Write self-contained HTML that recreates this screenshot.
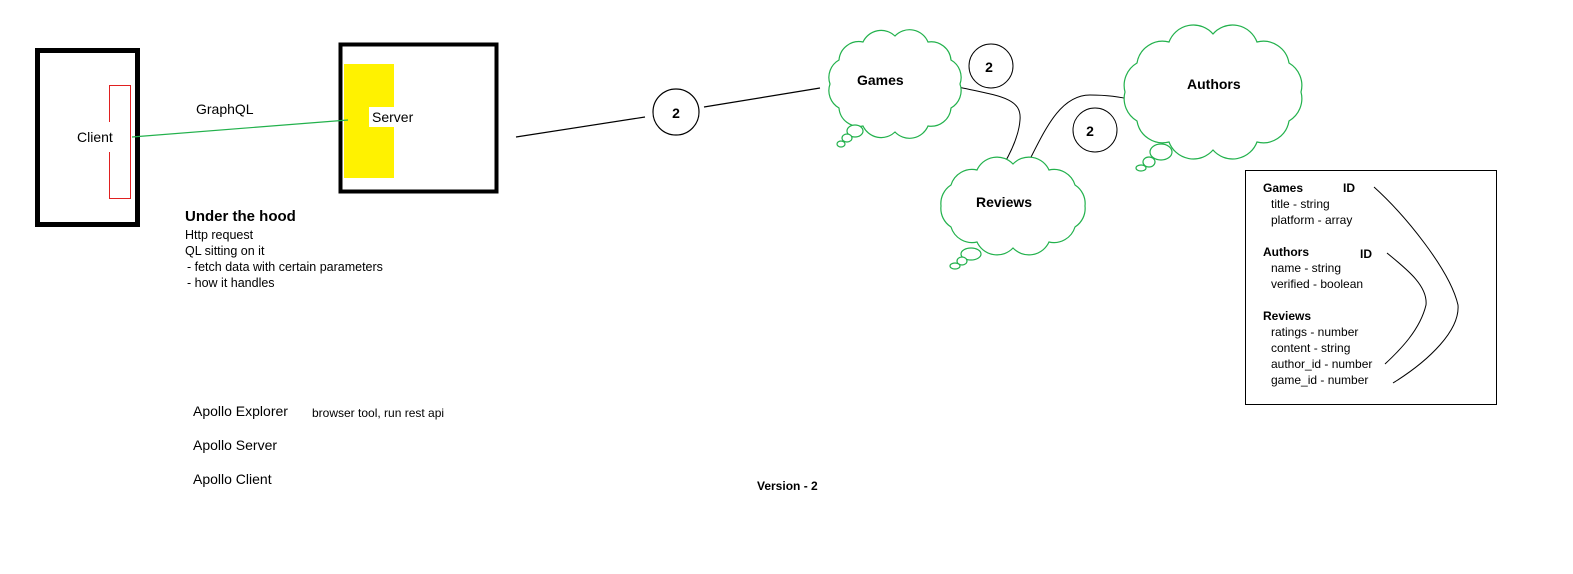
<!DOCTYPE html>
<html><head><meta charset="utf-8"><style>
html,body{margin:0;padding:0;background:#fff;}
svg{display:block;}
text{font-family:"Liberation Sans",Arial,sans-serif;fill:#000;}
</style></head><body>
<svg width="1573" height="574" viewBox="0 0 1573 574" xmlns="http://www.w3.org/2000/svg">
<rect width="1573" height="574" fill="#fff"/>
<!-- Client -->
<rect x="37.5" y="50.5" width="100" height="174" fill="none" stroke="#000" stroke-width="5"/>
<rect x="109.5" y="85.5" width="21" height="113" fill="none" stroke="#e02020" stroke-width="1"/>
<rect x="100" y="122" width="20" height="30" fill="#fff"/>
<text x="77" y="142" font-size="14">Client</text>
<!-- Server -->
<rect x="340.5" y="44.5" width="156" height="147" fill="none" stroke="#000" stroke-width="4"/>
<rect x="344" y="64" width="50" height="114" fill="#fff200"/>
<rect x="369" y="107" width="26" height="20" fill="#fff"/>
<text x="372" y="122" font-size="14">Server</text>
<line x1="132" y1="137" x2="348" y2="120" stroke="#22b14c" stroke-width="1.2"/>
<text x="196" y="114" font-size="14">GraphQL</text>
<!-- Under the hood -->
<text x="185" y="221" font-size="15" font-weight="bold">Under the hood</text>
<text font-size="12.5"><tspan x="185" y="239">Http request</tspan><tspan x="185" y="255">QL sitting on it</tspan><tspan x="187" y="271">- fetch data with certain parameters</tspan><tspan x="187" y="287">- how it handles</tspan></text>
<!-- connectors -->
<line x1="516" y1="137" x2="645" y2="117" stroke="#000" stroke-width="1.2"/>
<circle cx="676" cy="112" r="23" fill="none" stroke="#000" stroke-width="1.2"/>
<text x="676" y="118" font-size="14" font-weight="bold" text-anchor="middle">2</text>
<line x1="704" y1="107" x2="820" y2="88" stroke="#000" stroke-width="1.2"/>
<circle cx="991" cy="66" r="22" fill="none" stroke="#000" stroke-width="1"/>
<text x="989" y="72" font-size="14" font-weight="bold" text-anchor="middle">2</text>
<circle cx="1095" cy="130" r="22" fill="none" stroke="#000" stroke-width="1"/>
<text x="1090" y="136" font-size="14" font-weight="bold" text-anchor="middle">2</text>
<path d="M958 87 C1000 96 1022 98 1020 120 C1019 135 1012 150 1004 164" fill="none" stroke="#000" stroke-width="1"/>
<path d="M1028 163 C1045 130 1060 95 1090 95 C1110 95 1125 98 1132 100" fill="none" stroke="#000" stroke-width="1"/>
<!-- Clouds -->
<g fill="#fff" stroke="#22b14c" stroke-width="1.2">
<path d="M960 84 A20 20 0 0 1 951 108 A20 20 0 0 1 928 126 A20 20 0 0 1 895 132 A20 20 0 0 1 863 126 A20 20 0 0 1 839 108 A20 20 0 0 1 830 84 A20 20 0 0 1 839 60 A20 20 0 0 1 863 42 A20 20 0 0 1 895 36 A20 20 0 0 1 928 42 A20 20 0 0 1 951 60 A20 20 0 0 1 960 84 Z"/>
<ellipse cx="855" cy="131" rx="8" ry="6"/><ellipse cx="847" cy="138" rx="5" ry="4"/><ellipse cx="841" cy="144" rx="4" ry="3"/>
<path d="M1301 92 A26 26 0 0 1 1289 121 A26 26 0 0 1 1257 142 A26 26 0 0 1 1213 150 A26 26 0 0 1 1169 142 A26 26 0 0 1 1137 121 A26 26 0 0 1 1125 92 A26 26 0 0 1 1137 63 A26 26 0 0 1 1169 42 A26 26 0 0 1 1213 34 A26 26 0 0 1 1257 42 A26 26 0 0 1 1289 63 A26 26 0 0 1 1301 92 Z"/>
<ellipse cx="1161" cy="152" rx="11" ry="8"/><ellipse cx="1149" cy="162" rx="6" ry="5"/><ellipse cx="1141" cy="168" rx="5" ry="3"/>
<path d="M1085 206 A22 22 0 0 1 1075 227 A22 22 0 0 1 1049 242 A22 22 0 0 1 1013 248 A22 22 0 0 1 977 242 A22 22 0 0 1 951 227 A22 22 0 0 1 941 206 A22 22 0 0 1 951 185 A22 22 0 0 1 977 170 A22 22 0 0 1 1013 164 A22 22 0 0 1 1049 170 A22 22 0 0 1 1075 185 A22 22 0 0 1 1085 206 Z"/>
<ellipse cx="971" cy="254" rx="10" ry="6"/><ellipse cx="962" cy="261" rx="5" ry="4"/><ellipse cx="955" cy="266" rx="5" ry="3"/>
</g>
<text x="857" y="85" font-size="14" font-weight="bold">Games</text>
<text x="1187" y="89" font-size="14" font-weight="bold">Authors</text>
<text x="976" y="207" font-size="14" font-weight="bold">Reviews</text>
<!-- Schema box -->
<rect x="1245.5" y="170.5" width="251" height="234" fill="none" stroke="#000" stroke-width="1"/>
<g font-size="12">
<text x="1263" y="192" font-weight="bold">Games</text><text x="1343" y="192" font-weight="bold">ID</text>
<text x="1271" y="208">title - string</text>
<text x="1271" y="224">platform - array</text>
<text x="1263" y="256" font-weight="bold">Authors</text><text x="1360" y="258" font-weight="bold">ID</text>
<text x="1271" y="272">name - string</text>
<text x="1271" y="288">verified - boolean</text>
<text x="1263" y="320" font-weight="bold">Reviews</text>
<text x="1271" y="336">ratings - number</text>
<text x="1271" y="352">content - string</text>
<text x="1271" y="368">author_id - number</text>
<text x="1271" y="384">game_id - number</text>
</g>
<path d="M1374 187 C1405 215 1450 270 1458 305 C1460 330 1430 360 1393 383" fill="none" stroke="#000" stroke-width="1"/>
<path d="M1387 253 C1405 268 1428 285 1426 305 C1420 330 1400 350 1385 364" fill="none" stroke="#000" stroke-width="1"/>
<!-- bottom -->
<text x="193" y="416" font-size="14">Apollo Explorer</text>
<text x="312" y="417" font-size="12">browser tool, run rest api</text>
<text x="193" y="450" font-size="14">Apollo Server</text>
<text x="193" y="484" font-size="14">Apollo Client</text>
<text x="757" y="490" font-size="12" font-weight="bold">Version - 2</text>
</svg>
</body></html>
